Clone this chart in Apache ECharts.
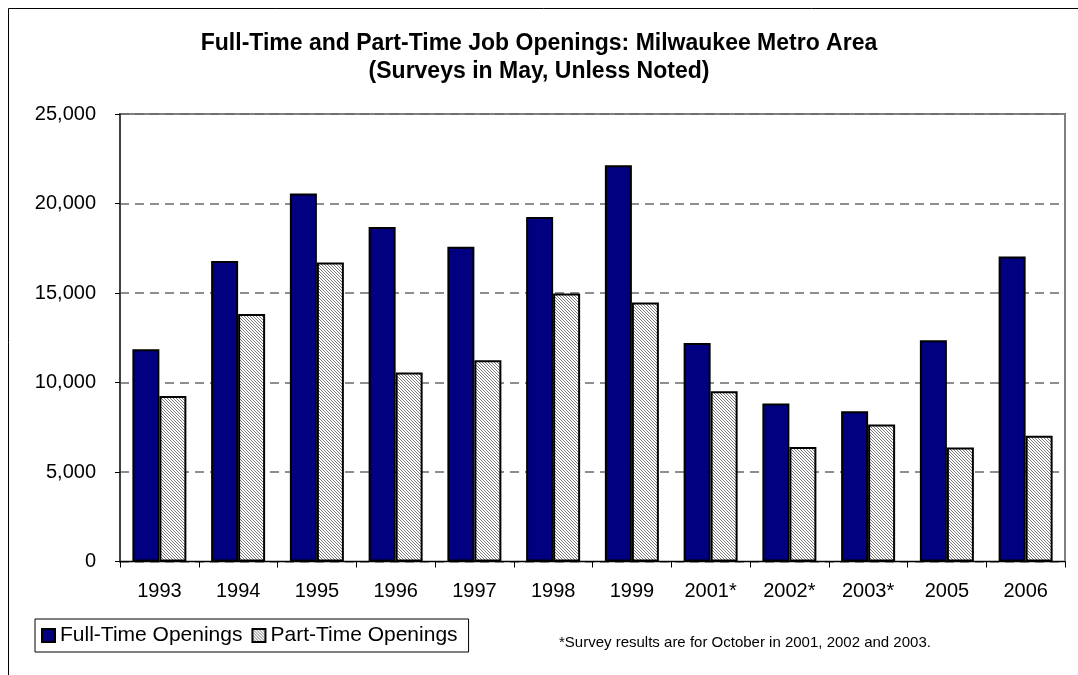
<!DOCTYPE html>
<html>
<head>
<meta charset="utf-8">
<script src="https://cdn.jsdelivr.net/npm/echarts@6/dist/echarts.min.js"></script>
<style>
  html, body { margin: 0; padding: 0; background: #fff; }
  #chart { width: 1078px; height: 675px; }
</style>
</head>
<body>
<div id="chart"></div>
<script>
// data
const years = ['1993', '1994', '1995', '1996', '1997', '1998', '1999', '2001*', '2002*', '2003*', '2005', '2006'];
const fullTime = [11860, 16790, 20560, 18690, 17580, 19250, 22140, 12210, 8830, 8400, 12360, 17040];
const partTime = [9250, 13820, 16700, 10560, 11250, 14970, 14470, 9510, 6400, 7650, 6370, 7020];
const yTicks = [0, 5000, 10000, 15000, 20000, 25000];
const titleLines = ['Full-Time and Part-Time Job Openings: Milwaukee Metro Area', '(Surveys in May, Unless Noted)'];
const footnote = '*Survey results are for October in 2001, 2002 and 2003.';

// hatched fill for the part-time bars
function makeHatch() {
  const c = document.createElement('canvas');
  c.width = 3;
  c.height = 3;
  const ctx = c.getContext('2d');
  ctx.fillStyle = '#ffffff';
  ctx.fillRect(0, 0, 3, 3);
  for (let x = 0; x < 3; x += 1) {
    for (let y = 0; y < 3; y += 1) {
      if ((x - y + 3) % 3 === 0) {
        ctx.fillStyle = '#7a7a7a';
        ctx.fillRect(x, y, 1, 1);
      }
    }
  }
  return c;
}

const chart = echarts.init(document.getElementById('chart'));
const font = 'Liberation Sans, Arial, sans-serif';

const option = {
  animation: false,
  textStyle: { fontFamily: font },
  title: {
    text: titleLines.join('\n'),
    left: 'center',
    top: 25,
    textStyle: {
      fontSize: 23,
      fontWeight: 'bold',
      color: '#000',
      lineHeight: 28,
      fontFamily: font,
    },
  },
  legend: {
    left: 35,
    top: 619,
    orient: 'horizontal',
    itemWidth: 13,
    itemHeight: 13,
    itemGap: 9,
    padding: [6, 11, 6, 6],
    borderColor: '#000',
    borderWidth: 1,
    icon: 'rect',
    textStyle: { fontSize: 21, color: '#000', fontFamily: font },
    itemStyle: { borderColor: '#000', borderWidth: 2 },
  },
  graphic: [
    {
      type: 'rect',
      shape: { x: 8.5, y: 8.5, width: 1200, height: 800 },
      style: { fill: 'none', stroke: '#000', lineWidth: 1 },
      silent: true,
      z: -1,
    },
    {
      type: 'text',
      left: 559,
      top: 635,
      style: { text: footnote, fontSize: 15, fill: '#000', fontFamily: font },
    },
  ],
  grid: {
    left: 120,
    right: 13,
    top: 114,
    bottom: 113.5,
    show: true,
    borderColor: '#808080',
    borderWidth: 2,
  },
  xAxis: {
    type: 'category',
    data: years,
    axisLine: { show: true, lineStyle: { color: '#000', width: 1 } },
    axisTick: { show: true, length: 6, lineStyle: { color: '#000' } },
    axisLabel: { fontSize: 20, color: '#000', margin: 20, fontFamily: font },
  },
  yAxis: {
    type: 'value',
    min: 0,
    max: yTicks[yTicks.length - 1],
    interval: 5000,
    axisLine: { show: true, lineStyle: { color: '#404040', width: 2 } },
    axisTick: { show: true, length: 5, lineStyle: { color: '#000' } },
    axisLabel: {
      fontSize: 20,
      color: '#000',
      margin: 24,
      fontFamily: font,
      formatter: (v) => v.toLocaleString('en-US'),
    },
    splitLine: {
      show: true,
      lineStyle: { color: '#6a6a6a', type: [9, 6], width: 1.5 },
    },
  },
  series: [
    {
      name: 'Full-Time Openings',
      type: 'bar',
      data: fullTime,
      barWidth: 27,
      barGap: '0%',
      itemStyle: { color: '#000080', borderColor: '#000', borderWidth: 2 },
    },
    {
      name: 'Part-Time Openings',
      type: 'bar',
      data: partTime,
      barWidth: 27,
      barGap: '0%',
      itemStyle: {
        color: { image: makeHatch(), repeat: 'repeat' },
        borderColor: '#000',
        borderWidth: 2,
      },
    },
  ],
};

chart.setOption(option);
</script>
</body>
</html>
